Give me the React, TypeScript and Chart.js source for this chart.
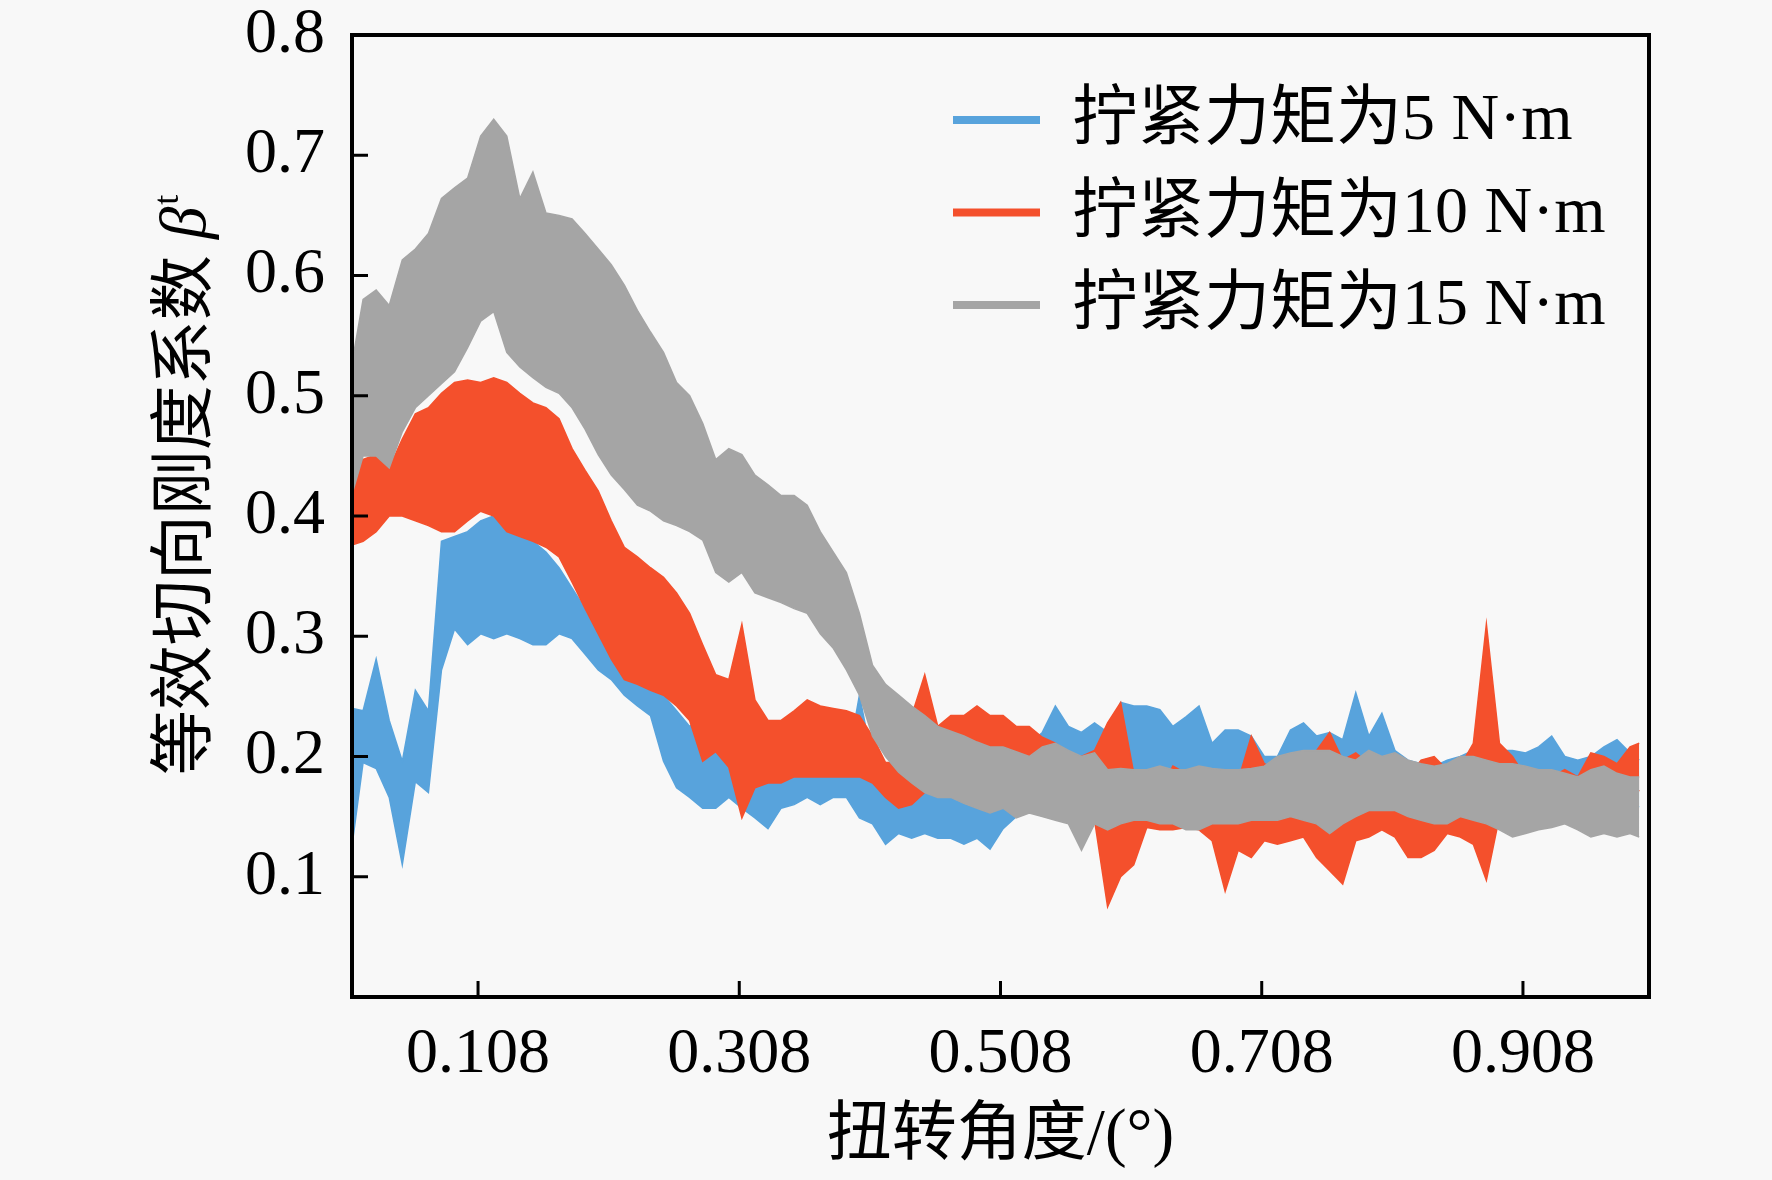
import { useEffect, useRef } from 'react';
import { Chart, registerables } from 'chart.js';

Chart.register(...registerables);

const angle = [
  0.012, 0.02, 0.03, 0.04, 0.05, 0.06, 0.07, 0.08, 0.09, 0.10,
  0.11, 0.12, 0.13, 0.14, 0.15, 0.16, 0.17, 0.18, 0.19, 0.20,
  0.21, 0.22, 0.23, 0.24, 0.25, 0.26, 0.27, 0.28, 0.29, 0.30,
  0.31, 0.32, 0.33, 0.34, 0.35, 0.36, 0.37, 0.38, 0.39, 0.40,
  0.41, 0.42, 0.43, 0.44, 0.45, 0.46, 0.47, 0.48, 0.49, 0.50,
  0.51, 0.52, 0.53, 0.54, 0.55, 0.56, 0.57, 0.58, 0.59, 0.60,
  0.61, 0.62, 0.63, 0.64, 0.65, 0.66, 0.67, 0.68, 0.69, 0.70,
  0.71, 0.72, 0.73, 0.74, 0.75, 0.76, 0.77, 0.78, 0.79, 0.80,
  0.81, 0.82, 0.83, 0.84, 0.85, 0.86, 0.87, 0.88, 0.89, 0.90,
  0.91, 0.92, 0.93, 0.94, 0.95, 0.96, 0.97, 0.98, 0.99, 0.997,
];

// 5 N·m : upper / lower edge of the noisy band
const blueHi = [
  0.24, 0.238, 0.281, 0.23, 0.196, 0.255, 0.238, 0.379, 0.383, 0.387,
  0.396, 0.40, 0.387, 0.383, 0.379, 0.37, 0.357, 0.34, 0.323, 0.31,
  0.298, 0.285, 0.276, 0.268, 0.251, 0.238, 0.225, 0.234, 0.208, 0.204,
  0.196, 0.191, 0.191, 0.187, 0.187, 0.187, 0.187, 0.187, 0.19, 0.251,
  0.196, 0.183, 0.183, 0.174, 0.174, 0.166, 0.166, 0.161, 0.157, 0.157,
  0.16, 0.19, 0.21, 0.22, 0.242, 0.225, 0.22, 0.228, 0.22, 0.245,
  0.242, 0.242, 0.239, 0.225, 0.233, 0.242, 0.211, 0.222, 0.222, 0.217,
  0.20, 0.20, 0.222, 0.228, 0.217, 0.22, 0.214, 0.253, 0.217, 0.236,
  0.205, 0.197, 0.194, 0.192, 0.197, 0.2, 0.205, 0.211, 0.205, 0.205,
  0.203, 0.208, 0.217, 0.2, 0.197, 0.2, 0.208, 0.214, 0.203, 0.197,
];
const blueLo = [
  0.13, 0.195, 0.19, 0.166, 0.11, 0.179, 0.17, 0.272, 0.306, 0.293,
  0.302, 0.298, 0.302, 0.298, 0.293, 0.293, 0.302, 0.298, 0.285, 0.272,
  0.264, 0.251, 0.242, 0.234, 0.196, 0.174, 0.166, 0.157, 0.157, 0.166,
  0.157, 0.149, 0.14, 0.157, 0.16, 0.166, 0.16, 0.166, 0.166, 0.149,
  0.144, 0.127, 0.136, 0.132, 0.136, 0.132, 0.132, 0.127, 0.132, 0.123,
  0.14, 0.15, 0.16, 0.165, 0.16, 0.17, 0.165, 0.16, 0.17, 0.165,
  0.16, 0.172, 0.165, 0.158, 0.168, 0.163, 0.16, 0.17, 0.166, 0.158,
  0.162, 0.17, 0.165, 0.16, 0.168, 0.158, 0.163, 0.17, 0.165, 0.16,
  0.166, 0.16, 0.158, 0.162, 0.165, 0.16, 0.168, 0.163, 0.16, 0.158,
  0.162, 0.166, 0.16, 0.158, 0.163, 0.16, 0.165, 0.168, 0.16, 0.158,
];

// 10 N·m
const redHi = [
  0.44, 0.447, 0.451, 0.44, 0.464, 0.485, 0.49, 0.502, 0.511, 0.513,
  0.511, 0.515, 0.511, 0.502, 0.494, 0.49, 0.481, 0.456, 0.438, 0.421,
  0.396, 0.374, 0.366, 0.357, 0.349, 0.336, 0.319, 0.293, 0.268, 0.264,
  0.31, 0.247, 0.23, 0.23, 0.238, 0.247, 0.242, 0.24, 0.238, 0.234,
  0.217, 0.195, 0.195, 0.234, 0.268, 0.225, 0.234, 0.234, 0.242, 0.234,
  0.234, 0.225, 0.225, 0.216, 0.211, 0.203, 0.2, 0.205, 0.228, 0.245,
  0.186, 0.172, 0.172, 0.192, 0.186, 0.172, 0.172, 0.166, 0.18, 0.217,
  0.194, 0.189, 0.172, 0.166, 0.205, 0.22, 0.197, 0.203, 0.194, 0.183,
  0.18, 0.183, 0.197, 0.2, 0.189, 0.192, 0.211, 0.31, 0.211, 0.2,
  0.183, 0.183, 0.183, 0.189, 0.183, 0.203, 0.2, 0.194, 0.208, 0.211,
];
const redLo = [
  0.376, 0.379, 0.387, 0.40, 0.40, 0.396, 0.392, 0.387, 0.387, 0.396,
  0.404, 0.40, 0.387, 0.383, 0.379, 0.374, 0.366, 0.345, 0.323, 0.302,
  0.281, 0.264, 0.26, 0.255, 0.251, 0.242, 0.23, 0.196, 0.204, 0.191,
  0.149, 0.174, 0.178, 0.178, 0.183, 0.183, 0.183, 0.183, 0.183, 0.183,
  0.178, 0.166, 0.157, 0.16, 0.17, 0.183, 0.196, 0.196, 0.196, 0.196,
  0.196, 0.19, 0.19, 0.189, 0.186, 0.178, 0.172, 0.147, 0.075, 0.10,
  0.11, 0.141, 0.139, 0.139, 0.141, 0.139, 0.13, 0.088, 0.122, 0.116,
  0.13, 0.127, 0.13, 0.133, 0.116, 0.105, 0.094, 0.13, 0.133, 0.139,
  0.133, 0.116, 0.116, 0.122, 0.136, 0.133, 0.127, 0.097, 0.15, 0.155,
  0.155, 0.15, 0.15, 0.152, 0.144, 0.15, 0.152, 0.155, 0.161, 0.172,
];

// 15 N·m
const grayHi = [
  0.53, 0.58, 0.588, 0.575, 0.613, 0.622, 0.635, 0.664, 0.673, 0.681,
  0.716, 0.73, 0.716, 0.664, 0.686, 0.652, 0.65, 0.647, 0.635, 0.622,
  0.609, 0.592, 0.571, 0.553, 0.536, 0.511, 0.50, 0.477, 0.447, 0.456,
  0.451, 0.434, 0.426, 0.417, 0.417, 0.409, 0.387, 0.37, 0.353, 0.319,
  0.276, 0.26, 0.251, 0.242, 0.234, 0.225, 0.221, 0.217, 0.212, 0.208,
  0.208, 0.204, 0.20, 0.208, 0.211, 0.205, 0.20, 0.203, 0.189, 0.19,
  0.189, 0.189, 0.192, 0.189, 0.189, 0.192, 0.19, 0.189, 0.189, 0.19,
  0.192, 0.20, 0.203, 0.205, 0.205, 0.205, 0.2, 0.197, 0.205, 0.2,
  0.203, 0.197, 0.194, 0.192, 0.194, 0.2, 0.2, 0.197, 0.194, 0.194,
  0.192, 0.189, 0.189, 0.186, 0.183, 0.189, 0.192, 0.186, 0.183, 0.183,
];
const grayLo = [
  0.42, 0.45, 0.45, 0.44, 0.47, 0.49, 0.50, 0.51, 0.52, 0.54,
  0.562, 0.57, 0.536, 0.524, 0.515, 0.507, 0.502, 0.49, 0.472, 0.451,
  0.434, 0.422, 0.409, 0.404, 0.396, 0.392, 0.387, 0.38, 0.353, 0.345,
  0.353, 0.336, 0.332, 0.328, 0.323, 0.319, 0.302, 0.29, 0.272, 0.251,
  0.217, 0.20, 0.187, 0.178, 0.17, 0.166, 0.166, 0.161, 0.157, 0.153,
  0.157, 0.149, 0.153, 0.15, 0.147, 0.144, 0.122, 0.144, 0.139, 0.144,
  0.147, 0.147, 0.144, 0.144, 0.139, 0.139, 0.144, 0.144, 0.144, 0.147,
  0.147, 0.147, 0.15, 0.147, 0.144, 0.136, 0.144, 0.15, 0.155, 0.155,
  0.155, 0.15, 0.147, 0.144, 0.144, 0.15, 0.147, 0.144, 0.139, 0.133,
  0.136, 0.139, 0.141, 0.144, 0.139, 0.133, 0.136, 0.133, 0.136, 0.133,
];

const seriesNames = ['拧紧力矩为5 N·m', '拧紧力矩为10 N·m', '拧紧力矩为15 N·m'];
const seriesColors = ['#58A3DC', '#F4502C', '#A5A5A5'];
const xTicks = [0.108, 0.308, 0.508, 0.708, 0.908];
const yTicks = [0.1, 0.2, 0.3, 0.4, 0.5, 0.6, 0.7, 0.8];
const xTitle = '扭转角度/(°)';
const yTitle = '等效切向刚度系数 ';

const FONT = "'Liberation Serif', 'Noto Sans CJK SC', serif";

// frame, inward ticks, y title with italic beta and the legend
const decorPlugin = {
  id: 'decor',
  afterDraw(chart: any) {
    const { ctx, chartArea: a, scales } = chart;
    ctx.save();
    ctx.strokeStyle = '#000';
    ctx.lineWidth = 3;
    ctx.beginPath();
    xTicks.forEach((v) => {
      const px = scales.x.getPixelForValue(v);
      ctx.moveTo(px, a.bottom);
      ctx.lineTo(px, a.bottom - 16);
    });
    yTicks.forEach((v) => {
      const py = scales.y.getPixelForValue(v);
      ctx.moveTo(a.left, py);
      ctx.lineTo(a.left + 16, py);
    });
    ctx.stroke();
    ctx.lineWidth = 4;
    ctx.strokeRect(a.left, a.top, a.right - a.left, a.bottom - a.top);

    // y axis title
    const fs = 65;
    ctx.save();
    ctx.translate(182, 486);
    ctx.rotate(-Math.PI / 2);
    ctx.fillStyle = '#000';
    ctx.textBaseline = 'alphabetic';
    ctx.textAlign = 'left';
    ctx.font = `${fs}px ${FONT}`;
    const w1 = ctx.measureText(yTitle).width;
    ctx.font = `italic ${fs}px ${FONT}`;
    const w2 = ctx.measureText('β').width;
    ctx.font = `${fs * 0.55}px ${FONT}`;
    const w3 = ctx.measureText('t').width;
    let x0 = -(w1 + w2 + w3) / 2;
    const base = fs * 0.36;
    ctx.font = `${fs}px ${FONT}`;
    ctx.fillText(yTitle, x0, base);
    x0 += w1;
    ctx.font = `italic ${fs}px ${FONT}`;
    ctx.fillText('β', x0, base);
    x0 += w2 + 2;
    ctx.font = `${fs * 0.55}px ${FONT}`;
    ctx.fillText('t', x0, base - fs * 0.42);
    ctx.restore();

    // legend
    ctx.font = `66px ${FONT}`;
    ctx.textBaseline = 'middle';
    ctx.textAlign = 'left';
    seriesNames.forEach((name, i) => {
      const y = 120 + i * 92.5;
      ctx.strokeStyle = seriesColors[i];
      ctx.lineWidth = 8;
      ctx.beginPath();
      ctx.moveTo(953, y);
      ctx.lineTo(1040, y);
      ctx.stroke();
      ctx.fillStyle = '#000';
      ctx.fillText(name, 1072, y + 2);
    });
    ctx.restore();
  },
};

const BandChart = () => {
  const chartRef = useRef<HTMLCanvasElement>(null);
  const chartInstance = useRef<Chart | null>(null);

  useEffect(() => {
    if (!chartRef.current) return;
    if (chartInstance.current) chartInstance.current.destroy();

    const bands = [
      { hi: blueHi, lo: blueLo, order: 2 },
      { hi: redHi, lo: redLo, order: 1 },
      { hi: grayHi, lo: grayLo, order: 0 },
    ];

    const datasets: any[] = [];
    bands.forEach((b, i) => {
      const color = seriesColors[i];
      datasets.push({
        label: seriesNames[i],
        data: angle.map((x, k) => ({ x, y: b.hi[k] })),
        borderColor: color,
        backgroundColor: color,
        borderWidth: 1.5,
        pointRadius: 0,
        tension: 0,
        fill: '+1',
        order: b.order,
      });
      datasets.push({
        label: seriesNames[i] + ' lower',
        data: angle.map((x, k) => ({ x, y: b.lo[k] })),
        borderColor: color,
        backgroundColor: color,
        borderWidth: 1.5,
        pointRadius: 0,
        tension: 0,
        fill: false,
        order: b.order,
      });
    });

    chartInstance.current = new Chart(chartRef.current, {
      type: 'line',
      data: { datasets },
      options: {
        animation: false,
        responsive: true,
        maintainAspectRatio: false,
        layout: { padding: { top: 35, right: 123, left: 0, bottom: 0 } },
        plugins: {
          legend: { display: false },
          tooltip: { enabled: false },
        },
        scales: {
          x: {
            type: 'linear',
            min: 0.0115,
            max: 1.0045,
            afterBuildTicks: (s: any) => {
              s.ticks = xTicks.map((v) => ({ value: v }));
            },
            afterFit: (s: any) => {
              s.height = 183;
              s.paddingLeft = 0;
              s.paddingRight = 0;
            },
            grid: { display: false, drawTicks: false },
            border: { display: false },
            ticks: {
              color: '#000',
              font: { family: FONT, size: 64, lineHeight: 1 },
              padding: 26,
              maxRotation: 0,
              autoSkip: false,
              callback: (v: any) => String(v),
            },
            title: {
              display: true,
              text: xTitle,
              color: '#000',
              font: { family: FONT, size: 65 },
              padding: { top: 0, bottom: 4 },
            },
          },
          y: {
            min: 0,
            max: 0.8,
            afterBuildTicks: (s: any) => {
              s.ticks = yTicks.map((v) => ({ value: v }));
            },
            afterFit: (s: any) => {
              s.width = 352;
              s.paddingTop = 0;
              s.paddingBottom = 0;
            },
            grid: { display: false, drawTicks: false },
            border: { display: false },
            ticks: {
              color: '#000',
              font: { family: FONT, size: 64, lineHeight: 1 },
              padding: 27,
              callback: (v: any) => String(v),
            },
          },
        },
      },
      plugins: [decorPlugin],
    });

    return () => {
      if (chartInstance.current) {
        chartInstance.current.destroy();
        chartInstance.current = null;
      }
    };
  }, []);

  return (
    <div style={{ position: 'relative', width: 1772, height: 1180 }}>
      <canvas ref={chartRef}></canvas>
    </div>
  );
};

export default function App() {
  return (
    <div style={{ position: 'fixed', left: 0, top: 0, width: 1772, height: 1180, background: '#f8f8f8' }}>
      <BandChart />
    </div>
  );
}
